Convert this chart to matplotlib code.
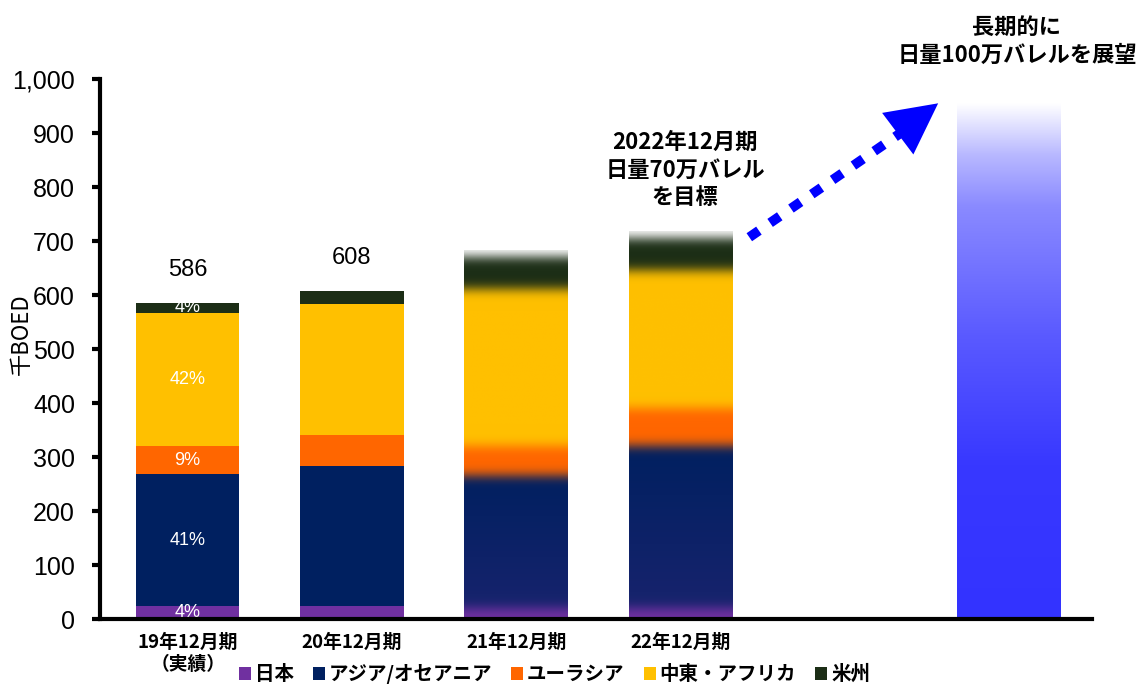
import numpy as np
import matplotlib
matplotlib.use('Agg')
import matplotlib.pyplot as plt
from matplotlib import font_manager
from matplotlib.colors import to_rgb
from matplotlib.ticker import FuncFormatter

avail = {f.name for f in font_manager.fontManager.ttflist}
NARROW = 'Liberation Sans Narrow' if 'Liberation Sans Narrow' in avail else 'Liberation Sans'
CJK = ['Noto Sans CJK JP', 'DejaVu Sans']

# data (千BOED)
periods = ['19年12月期\n（実績）', '20年12月期', '21年12月期', '22年12月期']
regions = ['日本', 'アジア/オセアニア', 'ユーラシア', '中東・アフリカ', '米州']
japan = [24, 25, 20, 20]
asia = [244, 259, 245, 300]
eurasia = [52, 57, 55, 70]
mideast = [246, 242, 290, 255]
americas = [20, 25, 60, 60]
actual_totals = [586, 608]
shares_19 = ['4%', '41%', '9%', '42%', '4%']
longterm_pos = 5
longterm_value = 955

colors = ['#7030a0', '#002060', '#ff6600', '#ffc000', '#1c2e16']
series = [japan, asia, eurasia, mideast, americas]

fig = plt.figure(figsize=(11.48, 6.84), dpi=100)
ax = fig.add_axes([0.0871, 0.095, 0.864, 0.7895])
W = 0.63


def blurred_column(vals, cols, sigma=10, fade=12, n=900):
    top = sum(vals) + fade
    y = np.linspace(0, top, n)
    bounds = np.cumsum(vals)
    idx = np.searchsorted(bounds, y, side='right')
    rgb = np.array([to_rgb(c) for c in cols] + [(1, 1, 1)])
    onehot = np.eye(len(rgb))[idx]
    dy = top / (n - 1)
    k = np.arange(-int(4 * sigma / dy), int(4 * sigma / dy) + 1) * dy
    ker = np.exp(-0.5 * (k / sigma) ** 2)
    ker /= ker.sum()
    pad = len(k) // 2
    padded = np.pad(onehot, ((pad, pad), (0, 0)), mode='edge')
    sm = np.stack([np.convolve(padded[:, j], ker, mode='valid')
                   for j in range(len(rgb))], axis=1)
    out = sm @ rgb
    # lower part fades gently toward the bottom colour
    a = 0.22 * np.clip(1 - y / bounds[1], 0, 1)[:, None]
    out = out * (1 - a) + rgb[0] * a
    return out[:, None, :], top


# actual results: solid stacked bars
handles = []
for i in range(2):
    bottom = 0
    for j, s in enumerate(series):
        b = ax.bar(i, s[i], W, bottom=bottom, color=colors[j], zorder=2)
        if i == 0:
            handles.append(b)
        bottom += s[i]
    ax.text(i, actual_totals[i] + 60, f'{actual_totals[i]}', ha='center',
            va='center', fontsize=17, family=NARROW)

# share labels on first bar
bottom = 0
for j, s in enumerate(series):
    ax.text(0, bottom + s[0] / 2, shares_19[j], ha='center', va='center',
            color='white', fontsize=13, family=NARROW, zorder=3)
    bottom += s[0]

# plans: blurred stacked bars
for i in range(2, 4):
    img, top = blurred_column([s[i] for s in series], colors)
    ax.imshow(img, extent=[i - W / 2, i + W / 2, 0, top], origin='lower',
              aspect='auto', interpolation='bilinear', zorder=2)

# long-term outlook bar
stops = [(0.0, '#3333ff'), (0.3, '#3838ff'), (0.55, '#5a5aff'),
         (0.8, '#8a8aff'), (0.9, '#b8b8ff'), (1.0, '#ffffff')]
t = np.linspace(0, 1, 600)
grad = np.stack([np.interp(t, [p for p, _ in stops], [to_rgb(c)[ch] for _, c in stops])
                 for ch in range(3)], axis=1)[:, None, :]
ax.imshow(grad, extent=[longterm_pos - W / 2, longterm_pos + W / 2, 0, longterm_value],
          origin='lower', aspect='auto', interpolation='bilinear', zorder=2)

# dotted arrow
ax.plot([3.42, 4.38], [707, 908], color='#0000ff', lw=7, dashes=(1.2, 1.4),
        dash_capstyle='butt', zorder=3)
ax.annotate('', xy=(4.57, 955), xytext=(4.36, 907),
            arrowprops=dict(arrowstyle='-|>,head_length=0.7,head_width=0.36',
                            mutation_scale=52, color='#0000ff', lw=0,
                            shrinkA=0, shrinkB=0), zorder=3)

ax.text(3.03, 831, '2022年12月期\n日量70万バレル\nを目標', ha='center', va='center',
        fontsize=16, fontweight='bold', family=CJK, linespacing=1.25)
ax.text(5.05, 1070, '長期的に\n日量100万バレルを展望', ha='center', va='center',
        fontsize=16, fontweight='bold', family=CJK, linespacing=1.3)

ax.set_xlim(-0.534, 5.506)
ax.set_ylim(0, 1000)
ax.set_yticks(np.arange(0, 1001, 100))
ax.yaxis.set_major_formatter(FuncFormatter(lambda v, p: f'{int(v):,}'))
ax.set_xticks(range(len(periods)))
ax.set_xticklabels(periods, family=CJK, fontsize=13.5, fontweight='bold')
ax.tick_params(axis='x', length=0, pad=10)
ax.tick_params(axis='y', length=6, width=3, labelsize=18, direction='out', pad=12)
for lab in ax.get_yticklabels():
    lab.set_family('Liberation Sans')
for side in ['top', 'right']:
    ax.spines[side].set_visible(False)
for side in ['left', 'bottom']:
    ax.spines[side].set_linewidth(3)
    ax.spines[side].set_zorder(4)

ax.set_ylabel('千BOED', family=CJK, fontsize=16)
ax.yaxis.set_label_coords(-0.0675, 0.528)

fig.legend([h[0] for h in handles], regions, loc='lower center',
           bbox_to_anchor=(0.483, -0.026), ncol=5, frameon=False,
           prop=dict(family=CJK, size=14, weight='bold'),
           handlelength=0.6, handleheight=0.6, handletextpad=0.2,
           columnspacing=1.0)

fig.savefig('out.png', dpi=100)
